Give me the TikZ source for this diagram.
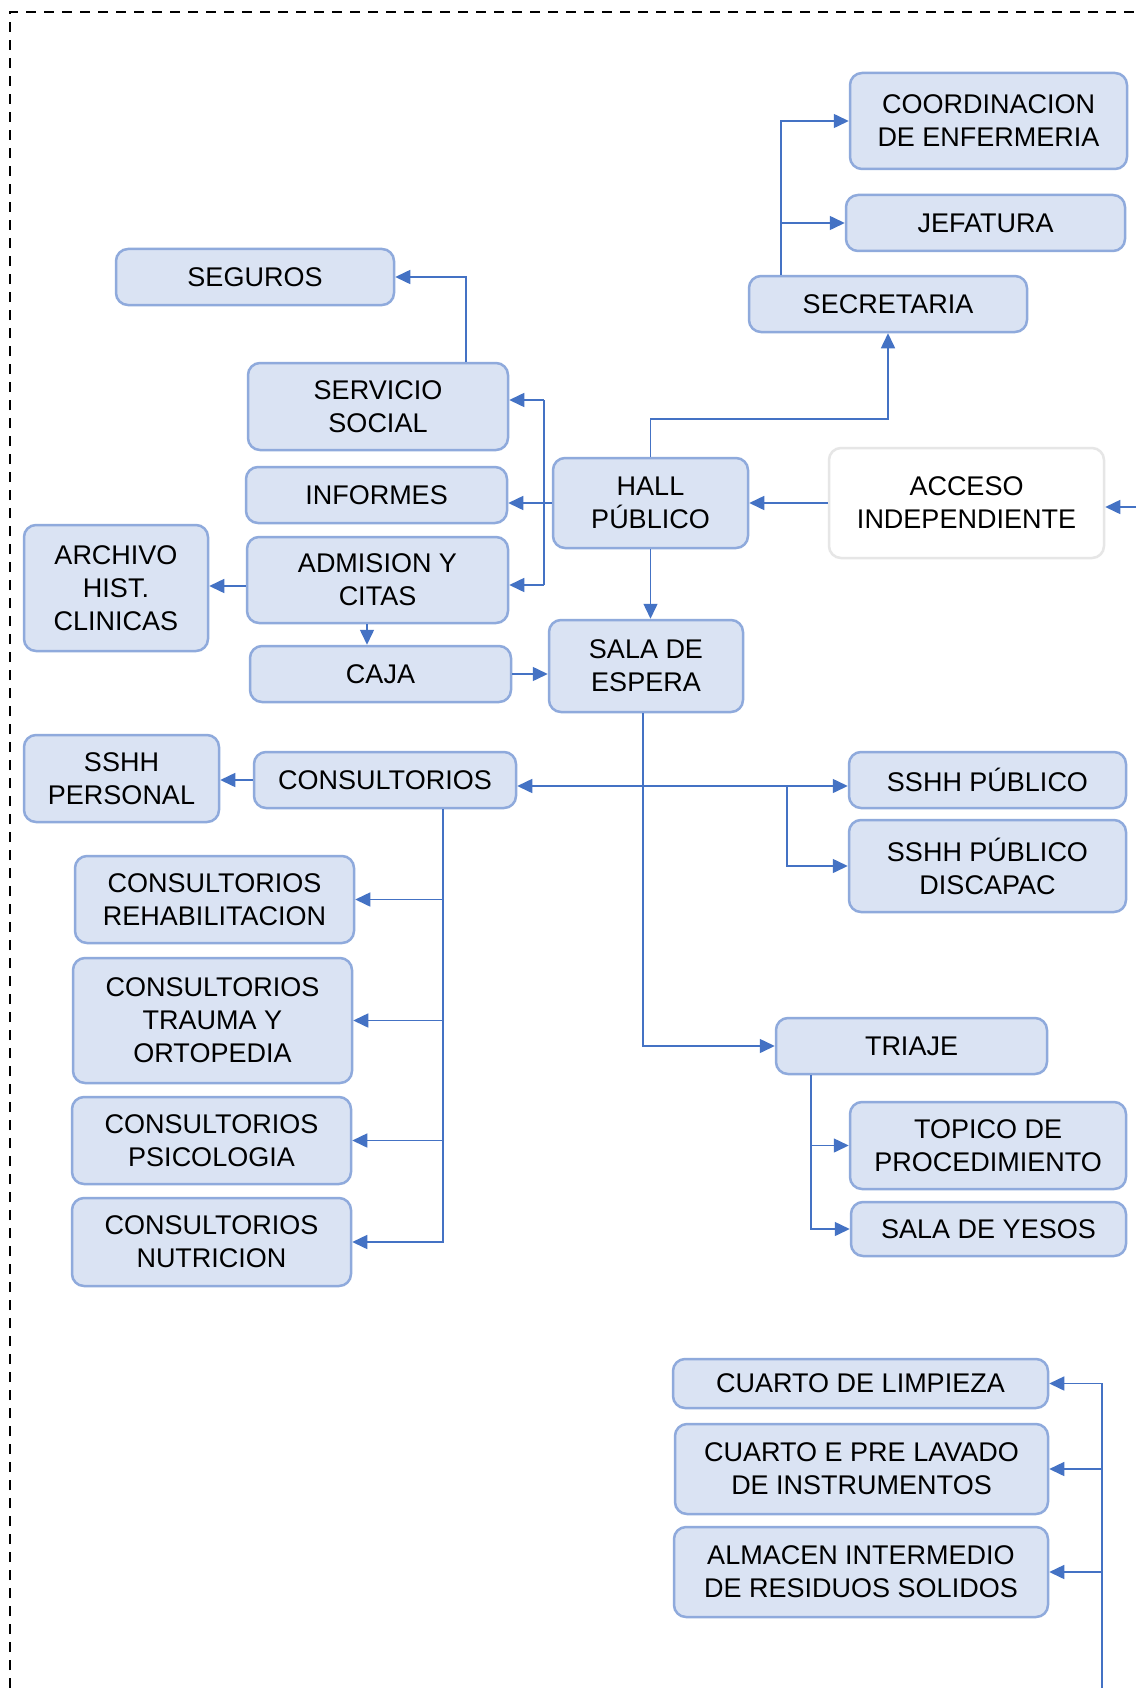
\documentclass[tikz,border=0pt]{standalone}
\usepackage{fontspec}
\setmainfont{Liberation Sans}
\usetikzlibrary{arrows.meta}
\definecolor{boxfill}{HTML}{DAE3F3}
\definecolor{boxline}{HTML}{8FAADC}
\definecolor{linkblue}{HTML}{4472C4}
\definecolor{softgray}{HTML}{E6E6E6}
\begin{document}
\begin{tikzpicture}[x=1pt,y=-1pt,
  box/.style={draw=boxline, fill=boxfill, line width=2.5pt, rounded corners=12pt,
    align=center, inner sep=0pt, font=\fontsize{27}{33}\selectfont},
  plainbox/.style={box, draw=softgray, fill=white},
  link/.style={draw=linkblue, line width=1.5pt},
  arr/.style={link, -{Triangle[length=15pt,width=14pt]}}]
\useasboundingbox (0,0) rectangle (1136,1688);
\fill[white] (0,0) rectangle (1136,1688);
% frame
\draw[line width=2.5pt, dash pattern=on 10pt off 8pt] (10,1688) -- (10,12) -- (1136,12);

% upper right block
\node[box, minimum width=277, minimum height=96] (coord) at (988.5,121) {COORDINACION\\DE ENFERMERIA};
\node[box, minimum width=279, minimum height=56] (jef) at (985.5,223) {JEFATURA};
\node[box, minimum width=278, minimum height=56] (secr) at (888,304) {SECRETARIA};

% reception block
\node[box, minimum width=278, minimum height=56] (seg) at (255,277) {SEGUROS};
\node[box, minimum width=260, minimum height=87] (serv) at (378,406.5) {SERVICIO\\SOCIAL};
\node[box, minimum width=261, minimum height=56] (inf) at (376.5,495) {INFORMES};
\node[box, minimum width=195, minimum height=90] (hall) at (650.5,503) {HALL\\PÚBLICO};
\node[plainbox, minimum width=275, minimum height=110] (acc) at (966.5,503) {ACCESO\\INDEPENDIENTE};
\node[box, minimum width=261, minimum height=86] (adm) at (377.5,580) {ADMISION Y\\CITAS};
\node[box, minimum width=184, minimum height=126] (arch) at (116,588) {ARCHIVO\\HIST.\\CLINICAS};
\node[box, minimum width=261, minimum height=56] (caja) at (380.5,674) {CAJA};
\node[box, minimum width=194, minimum height=92] (sala) at (646,666) {SALA DE\\ESPERA};

% consulting block
\node[box, minimum width=195, minimum height=87] (sshhp) at (121.5,778.5) {SSHH\\PERSONAL};
\node[box, minimum width=262, minimum height=56] (cons) at (385,780) {CONSULTORIOS};
\node[box, minimum width=277, minimum height=56] (sshpub) at (987.5,780) {SSHH PÚBLICO};
\node[box, minimum width=277, minimum height=92] (disc) at (987.5,866) {SSHH PÚBLICO\\DISCAPAC};
\node[box, minimum width=279, minimum height=87] (rehab) at (214.5,899.5) {CONSULTORIOS\\REHABILITACION};
\node[box, minimum width=279, minimum height=125] (trauma) at (212.5,1020.5) {CONSULTORIOS\\TRAUMA Y\\ORTOPEDIA};
\node[box, minimum width=279, minimum height=87] (psico) at (211.5,1140.5) {CONSULTORIOS\\PSICOLOGIA};
\node[box, minimum width=279, minimum height=88] (nutri) at (211.5,1242) {CONSULTORIOS\\NUTRICION};

% triage block
\node[box, minimum width=271, minimum height=56] (triaje) at (911.5,1046) {TRIAJE};
\node[box, minimum width=276, minimum height=87] (topico) at (988,1145.5) {TOPICO DE\\PROCEDIMIENTO};
\node[box, minimum width=275, minimum height=54] (yesos) at (988.5,1229) {SALA DE YESOS};

% service block
\node[box, minimum width=375, minimum height=49] (limp) at (860.5,1383.5) {CUARTO DE LIMPIEZA};
\node[box, minimum width=373, minimum height=90] (lav) at (861.5,1469) {CUARTO E PRE LAVADO\\DE INSTRUMENTOS};
\node[box, minimum width=374, minimum height=90] (alm) at (861,1572) {ALMACEN INTERMEDIO\\DE RESIDUOS SOLIDOS};

% junction points
\coordinate (j1) at (781,121);
\coordinate (hs) at (700,419);
\coordinate (ss) at (466,277);
\coordinate (bt) at (544,400);
\coordinate (bb) at (544,585);
\coordinate (ain) at (1136,507);
\coordinate (aa) at (230,586);
\coordinate (ac) at (367,635);
\coordinate (sx) at (643,786);
\coordinate (db) at (787,786);
\coordinate (cbx) at (443,830);
\coordinate (tx) at (811,1100);
\coordinate (rb) at (1102,1688);

% connectors
\draw[arr] (secr.north -| j1) |- (coord.west);
\draw[arr] (j1 |- jef.west) -- (jef.west);
\draw[arr] (hall.north) -- (hall.north |- hs) -| (secr.south);
\draw[arr] (serv.north -| ss) |- (seg.east);
\draw[arr] (hall.west) -- (inf.east |- hall.west);
\draw[link] (bt) -- (bb);
\draw[arr] (bt) -- (serv.east |- bt);
\draw[arr] (bb) -- (adm.east |- bb);
\draw[arr] (acc.west) -- (hall.east);
\draw[arr] (ain) -- (acc.east |- ain);
\draw[arr] (adm.west |- aa) -- (arch.east |- aa);
\draw[arr] (adm.south -| ac) -- (caja.north -| ac);
\draw[arr] (caja.east) -- (sala.west |- caja.east);
\draw[arr] (hall.south) -- (hall.south |- sala.north);
\draw[arr] (sala.south -| sx) |- (triaje.west);
\draw[arr] (sx) -- (cons.east |- sx);
\draw[arr] (sx) -- (sshpub.west |- sx);
\draw[arr] (db) |- (disc.west);
\draw[arr] (cons.west) -- (sshhp.east |- cons.west);
\draw[arr] (cons.south -| cbx) |- (nutri.east);
\draw[arr] (cbx |- rehab.east) -- (rehab.east);
\draw[arr] (cbx |- trauma.east) -- (trauma.east);
\draw[arr] (cbx |- psico.east) -- (psico.east);
\draw[arr] (triaje.south -| tx) |- (yesos.west);
\draw[arr] (tx |- topico.west) -- (topico.west);
\draw[arr] (rb) |- (limp.east);
\draw[arr] (rb |- lav.east) -- (lav.east);
\draw[arr] (rb |- alm.east) -- (alm.east);
\end{tikzpicture}
\end{document}
